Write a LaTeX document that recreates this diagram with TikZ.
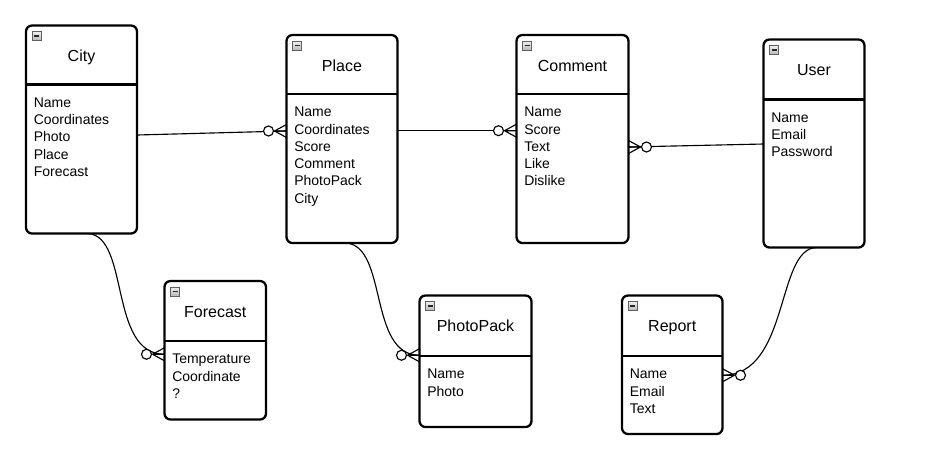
\documentclass[tikz,border=0pt]{standalone}
\usepackage{fontspec}
\setmainfont{Liberation Sans}
\usetikzlibrary{calc}

\tikzset{
  entity/.style={draw=black, line width=1.7pt, rounded corners=4.5pt, fill=white,
    inner sep=0pt, outer sep=0pt},
  divider/.style={line width=1.7pt},
  etitle/.style={font=\fontsize{12}{14}\selectfont, inner sep=0pt, anchor=base},
  eattr/.style={font=\fontsize{10.5}{13}\selectfont, inner sep=0pt, anchor=base west},
  toggle/.style={draw=gray!75!black, top color=gray!12, bottom color=gray!55,
    line width=0.5pt, minimum size=6.75pt, inner sep=0pt, outer sep=0pt, anchor=north west},
  relation/.style={line width=0.85pt},
  % zero-or-many end (crow's foot with circle); the entity lies on the +x side
  zeromany/.pic={
    \draw[line width=0.85pt] (-9pt,0pt) -- (0pt,0pt)
      (-9pt,0pt) -- (0pt,4.9pt) (-9pt,0pt) -- (0pt,-4.9pt);
    \draw[line width=0.85pt, fill=white] (-13.5pt,0pt) circle[radius=3.75pt];
  },
}

% name, centre x, centre y, width, height, header height, title, attributes
\newcommand\erentity[8]{%
  \node[entity, minimum width={#4*0.75pt}, minimum height={#5*0.75pt}] (#1) at (#2,#3) {};
  \draw[divider] ($(#1.north west)+(0,#6)$) -- ($(#1.north east)+(0,#6)$);
  \node[toggle] (#1-toggle) at ($(#1.north west)+(6,6)$) {};
  \draw[line width=0.8pt, black!85] ($(#1-toggle.west)+(2,0)$) -- ($(#1-toggle.east)+(-2,0)$);
  \node[etitle] (#1-title) at ($(#1.north)+(0,36)$) {#7};
  \foreach \a [count=\i] in {#8} {
    \node[eattr] (#1-attr\i) at ($(#1.north west)+(7.5,{#6+22.7+(\i-1)*17.3})$) {\a};
  }%
}

\begin{document}
\begin{tikzpicture}[x=0.75pt, y=-0.75pt]
  \fill[white] (0,0) rectangle (929,462);
  \useasboundingbox (0,0) rectangle (929,462);

  \erentity{city}{81.5}{129.5}{111}{208}{59}{City}{Name,Coordinates,Photo,Place,Forecast}
  \erentity{place}{342}{139}{111}{208}{59}{Place}{Name,Coordinates,Score,Comment,PhotoPack,City}
  \erentity{comment}{572.5}{139}{112}{208}{59}{Comment}{Name,Score,Text,Like,Dislike}
  \erentity{user}{814}{143.5}{101}{208}{60}{User}{Name,Email,Password}
  \erentity{forecast}{215.25}{350.25}{101.5}{138.5}{60}{Forecast}{Temperature,Coordinate,?}
  \erentity{photopack}{475.5}{361.25}{112}{131.5}{60.5}{PhotoPack}{Name,Photo}
  \erentity{report}{672.25}{364.75}{100.5}{138.5}{60.5}{Report}{Name,Email,Text}

  % relationship lines
  \draw[relation] ($(city.east)+(0,5.5)$) -- ($(place.west)+(0,-8)$);
  \draw[relation] ($(place.east)+(0,-8.3)$) -- ($(comment.west)+(0,-8.3)$);
  \draw[relation] ($(user.west)+(0,0.5)$) -- ($(comment.east)+(0,8)$);
  \draw[relation] ($(city.south)+(6.5,0)$)
    .. controls ($(city.south)+(48.5,3)$) and ($(forecast.west)+(-56,4)$)
    .. ($(forecast.west)+(0,4)$);
  \draw[relation] ($(place.south)+(4,0)$)
    .. controls ($(place.south)+(46,3)$) and ($(photopack.west)+(-51.5,-6)$)
    .. ($(photopack.west)+(0,-6)$);
  \draw[relation] ($(user.south)+(2,0)$)
    .. controls ($(user.south)+(-38,2)$) and ($(report.east)+(67,10.5)$)
    .. ($(report.east)+(0,10.5)$);

  % zero-or-many ends
  \path ($(place.west)+(0,-8)$) pic {zeromany};
  \path ($(comment.west)+(0,-8.3)$) pic {zeromany};
  \path ($(comment.east)+(0,8)$) pic[rotate=180] {zeromany};
  \path ($(forecast.west)+(0,4)$) pic {zeromany};
  \path ($(photopack.west)+(0,-6)$) pic {zeromany};
  \path ($(report.east)+(0,10.5)$) pic[rotate=180] {zeromany};
\end{tikzpicture}
\end{document}
